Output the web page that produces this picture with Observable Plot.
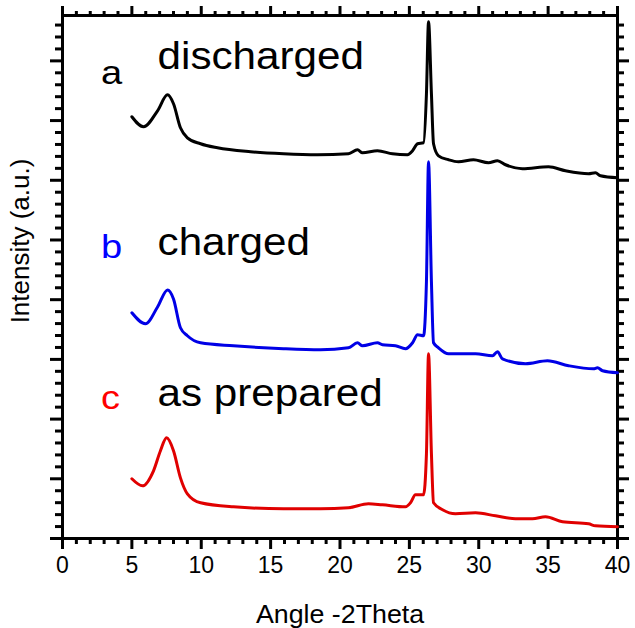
<!DOCTYPE html>
<html><head><meta charset="utf-8">
<script src="https://cdn.jsdelivr.net/npm/d3@7"></script>
<script src="https://cdn.jsdelivr.net/npm/@observablehq/plot@0.6"></script>
<style>body{margin:0;background:#fff}</style>
</head><body><div id="chart"></div>
<script>
// Series a: discharged
const dischargedX = [5.0, 5.84, 6.85, 7.57, 8.0, 8.5, 9.0, 9.95, 11.17, 13.55, 15.93, 18.38, 20.61, 21.26, 21.62, 22.70, 23.78, 24.86, 25.23, 25.59, 26.02, 26.23, 26.38, 26.59, 26.74, 27.10, 27.82, 28.54, 29.62, 30.70, 31.35, 31.93, 33.15, 35.03, 36.25, 37.91, 38.41, 38.77, 40.0];
const dischargedY = [35.32, 34.48, 35.82, 37.16, 36.41, 34.40, 33.56, 33.06, 32.72, 32.39, 32.22, 32.14, 32.22, 32.55, 32.30, 32.47, 32.22, 32.14, 32.47, 33.06, 33.14, 37.24, 43.27, 37.24, 33.06, 32.05, 31.72, 31.55, 31.72, 31.47, 31.64, 31.30, 30.97, 31.13, 30.80, 30.55, 30.63, 30.38, 30.21];
// Series b: charged
const chargedX = [5.0, 5.98, 6.85, 7.57, 8.0, 8.5, 9.0, 9.95, 12.32, 15.93, 18.59, 20.61, 21.26, 21.62, 22.70, 23.06, 24.0, 24.72, 25.23, 25.59, 26.02, 26.23, 26.38, 26.59, 26.74, 27.10, 27.82, 29.77, 30.99, 31.35, 31.71, 33.37, 34.95, 36.47, 38.27, 38.56, 38.92, 40.0];
const chargedY = [18.90, 17.98, 19.39, 20.81, 20.06, 17.65, 16.98, 16.39, 16.14, 15.89, 15.80, 15.97, 16.39, 16.14, 16.39, 16.22, 16.14, 15.89, 16.39, 17.06, 16.98, 21.5, 31.55, 21.5, 16.39, 15.97, 15.47, 15.47, 15.30, 15.64, 15.05, 14.63, 14.88, 14.47, 14.21, 14.30, 14.05, 13.88];
// Series c: as prepared
const preparedX = [5.0, 5.77, 6.56, 7.06, 7.50, 8.0, 8.5, 9.0, 9.95, 12.32, 15.93, 18.59, 20.61, 22.05, 23.06, 24.72, 25.08, 25.44, 26.02, 26.23, 26.38, 26.59, 26.74, 27.39, 28.32, 29.77, 31.21, 32.65, 33.87, 34.81, 36.04, 37.91, 38.41, 40.0];
const preparedY = [5.00, 4.41, 5.67, 7.35, 8.43, 7.35, 5.08, 3.74, 2.99, 2.65, 2.49, 2.49, 2.57, 2.91, 2.82, 2.65, 2.99, 3.66, 3.66, 7.09, 15.47, 7.09, 2.99, 2.41, 2.07, 2.15, 1.90, 1.65, 1.65, 1.82, 1.40, 1.23, 1.06, 0.98];

const seriesNames = ["discharged", "charged", "as prepared"];
const seriesLetters = ["a", "b", "c"];
const seriesColors = ["#000000", "#0000e6", "#e00000"];
const letterColors = ["#000000", "#0000ff", "#ff0000"];
// annotation anchor positions (data units)
const nameX = [6.85, 6.85, 6.85];
const nameY = [39.34, 23.76, 11.11];
const letterX = [2.77, 2.77, 2.77];
const letterY = [38.08, 23.49, 10.86];

const xMajorTicks = [0, 5, 10, 15, 20, 25, 30, 35, 40];
const xMinorTicks = [1,2,3,4,6,7,8,9,11,12,13,14,16,17,18,19,21,22,23,24,26,27,28,29,31,32,33,34,36,37,38,39];
const yMajorTicks = [0, 5, 10, 15, 20, 25, 30, 35, 40];
const yMinorTicks = [1,2,3,4,6,7,8,9,11,12,13,14,16,17,18,19,21,22,23,24,26,27,28,29,31,32,33,34,36,37,38,39,41,42,43];

const xTitle = "Angle -2Theta";
const yTitle = "Intensity (a.u.)";

const toRows = (xs, ys) => xs.map((x, i) => ({x, y: ys[i]}));
const series = [toRows(dischargedX, dischargedY), toRows(chargedX, chargedY), toRows(preparedX, preparedY)];
const idx = [0, 1, 2];
const blank = () => "";
const tw = 3;

const chart = Plot.plot({
  width: 635,
  height: 628,
  marginLeft: 62,
  marginRight: 18,
  marginTop: 15,
  marginBottom: 90,
  x: {domain: [0, 40]},
  y: {domain: [0, 43.8]},
  style: {fontFamily: "'Liberation Sans', Arial, sans-serif", background: "#fff", color: "#000"},
  marks: [
    // bottom axis
    Plot.axisX(xMajorTicks, {anchor: "bottom", tickSize: 11, strokeWidth: tw, tickPadding: 7, fontSize: 23, label: null}),
    Plot.axisX(xMinorTicks, {anchor: "bottom", tickSize: 6, strokeWidth: tw, tickFormat: blank, label: null}),
    // top axis
    Plot.axisX(xMajorTicks, {anchor: "top", tickSize: 10, strokeWidth: tw, tickFormat: blank, label: null}),
    Plot.axisX(xMinorTicks, {anchor: "top", tickSize: 5, strokeWidth: tw, tickFormat: blank, label: null}),
    // left axis
    Plot.axisY(yMajorTicks, {anchor: "left", tickSize: 12, strokeWidth: tw, tickFormat: blank, label: null}),
    Plot.axisY(yMinorTicks, {anchor: "left", tickSize: 7, strokeWidth: tw, tickFormat: blank, label: null}),
    // right axis
    Plot.axisY(yMajorTicks, {anchor: "right", tickSize: 11, strokeWidth: tw, tickFormat: blank, label: null}),
    Plot.axisY(yMinorTicks, {anchor: "right", tickSize: 6, strokeWidth: tw, tickFormat: blank, label: null}),
    Plot.frame({stroke: "#000", strokeWidth: 3}),
    ...series.map((rows, i) => Plot.line(rows, {x: "x", y: "y", stroke: seriesColors[i], strokeWidth: 3, curve: "monotone-x"})),
    Plot.text(idx, {x: i => letterX[i], y: i => letterY[i], text: i => seriesLetters[i], fill: i => letterColors[i], textAnchor: "start", lineAnchor: "bottom", fontSize: 34}),
    Plot.text(idx, {x: i => nameX[i], y: i => nameY[i], text: i => seriesNames[i], fill: "#000", textAnchor: "start", lineAnchor: "bottom", fontSize: 38}),
    Plot.text([xTitle], {frameAnchor: "bottom", dy: 84, textAnchor: "middle", lineAnchor: "bottom", fontSize: 26, fill: "#000"}),
    Plot.text([yTitle], {frameAnchor: "left", dx: -42, dy: -36, rotate: -90, textAnchor: "middle", lineAnchor: "middle", fontSize: 26, fill: "#000"})
  ]
});
document.getElementById("chart").appendChild(chart);
// the reference's lettering is slightly wider than Arial: stretch glyphs horizontally
const stretchFactor = new Map([
  ...seriesNames.map(s => [s, 1.11]),
  ...seriesLetters.map(s => [s, 1.12]),
  [xTitle, 1.03]
]);
chart.querySelectorAll("text").forEach(t => {
  const f = stretchFactor.get(t.textContent);
  if (!f) return;
  let len = t.getComputedTextLength();
  if (!len) len = t.getBBox().width;
  if (!len) return;
  t.setAttribute("textLength", (len * f).toFixed(1));
  t.setAttribute("lengthAdjust", "spacingAndGlyphs");
});
</script>
</body></html>
